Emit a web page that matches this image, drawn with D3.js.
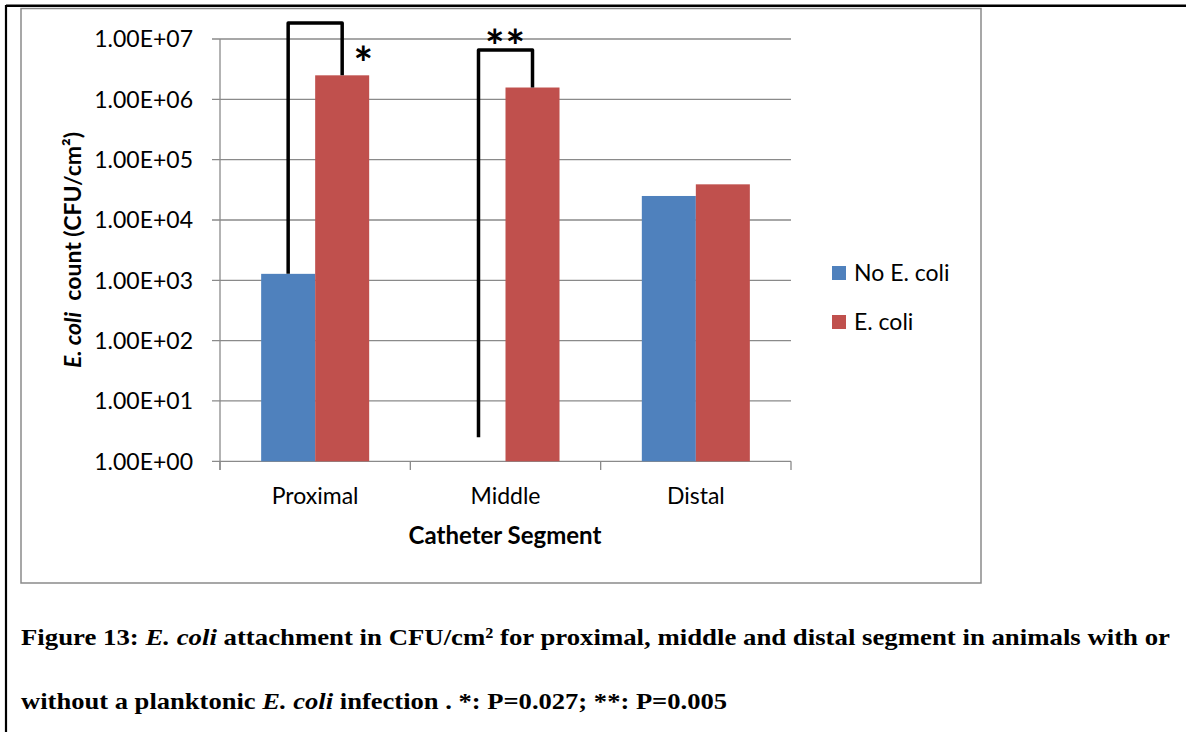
<!DOCTYPE html>
<html>
<head>
<meta charset="utf-8">
<script src="https://cdn.jsdelivr.net/npm/d3@7"></script>
<style>
  body { margin: 0; background: #fff; }
  svg { display: block; }
</style>
</head>
<body>
<svg id="chart" width="1186" height="732"></svg>
<script>
// data
const categories = ["Proximal", "Middle", "Distal"];
const seriesNames = ["No E. coli", "E. coli"];
const noEcoli = [1280, null, 25000];
const ecoli = [2500000, 1570000, 39000];
const yTicks = [1, 10, 100, 1000, 10000, 100000, 1000000, 10000000];
// significance brackets (data units)
const brackets = [
  { cat: "Proximal", left: 1280, top: 18500000, right: 2500000, label: "*" },
  { cat: "Middle", left: 2.5, top: 6600000, right: 1570000, label: "**" },
];

const colors = ["#4F81BD", "#C0504D"];
const font = "Lato, 'Open Sans', sans-serif";

const svg = d3.select("#chart");

// page frame: black line top and left
svg.append("line").attr("x1", 6).attr("x2", 1186).attr("y1", 5.8).attr("y2", 5.8)
  .attr("stroke", "#000").attr("stroke-width", 2.4);
svg.append("line").attr("x1", 6).attr("x2", 6).attr("y1", 5).attr("y2", 732)
  .attr("stroke", "#000").attr("stroke-width", 2.2);

// chart area border
svg.append("rect").attr("x", 21).attr("y", 8.5).attr("width", 960).attr("height", 574.5)
  .attr("fill", "none").attr("stroke", "#8a8a8a").attr("stroke-width", 1.5);

const x = d3.scaleBand().domain(categories).range([220, 791]).padding(0);
const xs = d3.scaleBand().domain(seriesNames).range([0, x.bandwidth()])
  .paddingInner(0).paddingOuter(0.762);
const y = d3.scaleLog().domain([1, 1e7]).range([461.3, 39]);

// gridlines
svg.append("g").selectAll("line").data(yTicks).join("line")
  .attr("x1", 212).attr("x2", 791)
  .attr("y1", d => y(d)).attr("y2", d => y(d))
  .attr("stroke", "#8a8a8a").attr("stroke-width", 1.3);

// y axis line
svg.append("line").attr("x1", 220).attr("x2", 220).attr("y1", y(1e7)).attr("y2", 470)
  .attr("stroke", "#8a8a8a").attr("stroke-width", 1.3);

// x axis ticks
const xTickPos = [220].concat(categories.map(c => x(c) + x.bandwidth()));
svg.append("g").selectAll("line").data(xTickPos).join("line")
  .attr("x1", d => d).attr("x2", d => d).attr("y1", y(1)).attr("y2", 470)
  .attr("stroke", "#8a8a8a").attr("stroke-width", 1.3);

// y tick labels
svg.append("g").selectAll("text").data(yTicks).join("text")
  .attr("x", 193).attr("y", d => y(d)).attr("dy", "0.36em")
  .attr("text-anchor", "end").attr("font-family", font).attr("font-size", 23)
  .attr("fill", "#000")
  .text(d => d3.format(".2e")(d).replace("e", "E").replace(/E([+-])(\d)$/, "E$10$2"));

// bars
const rows = categories.map((c, i) => ({ cat: c, vals: [noEcoli[i], ecoli[i]] }));
const groups = svg.append("g").selectAll("g").data(rows).join("g")
  .attr("transform", d => `translate(${x(d.cat)},0)`);
groups.selectAll("rect")
  .data(d => d.vals.map((v, j) => ({ v, s: seriesNames[j], j })).filter(e => e.v != null))
  .join("rect")
  .attr("x", d => xs(d.s)).attr("width", xs.bandwidth())
  .attr("y", d => y(d.v)).attr("height", d => y(1) - y(d.v))
  .attr("fill", d => colors[d.j]);

// category labels
svg.append("g").selectAll("text").data(categories).join("text")
  .attr("x", d => x(d) + x.bandwidth() / 2).attr("y", 504)
  .attr("text-anchor", "middle").attr("font-family", font).attr("font-size", 23)
  .text(d => d);

// x title
svg.append("text").attr("x", 505).attr("y", 544).attr("text-anchor", "middle")
  .attr("font-family", font).attr("font-size", 24).attr("font-weight", "bold")
  .text("Catheter Segment");

// y title
const yt = svg.append("text")
  .attr("transform", "translate(81,250) rotate(-90)")
  .attr("text-anchor", "middle").attr("font-family", font)
  .attr("font-size", 23).attr("font-weight", "bold");
yt.append("tspan").attr("font-style", "italic").text("E. coli");
yt.append("tspan").text("\u00a0 count (CFU/cm²)");

// brackets
const bx = (cat, s) => x(cat) + xs(s) + xs.bandwidth() / 2;
svg.append("g").selectAll("path").data(brackets).join("path")
  .attr("d", d => {
    const x1 = bx(d.cat, seriesNames[0]), x2 = bx(d.cat, seriesNames[1]);
    return `M${x1},${y(d.left)}V${y(d.top)}H${x2}V${y(d.right)}`;
  })
  .attr("fill", "none").attr("stroke", "#000").attr("stroke-width", 3.5)
  .attr("stroke-linejoin", "round");

// star labels
svg.append("text")
  .attr("x", bx("Proximal", seriesNames[1]) + 21).attr("y", 80)
  .attr("text-anchor", "middle").attr("font-family", font).attr("font-size", 46)
  .attr("font-weight", "bold").text(brackets[0].label);
svg.append("text")
  .attr("x", x("Middle") + x.bandwidth() / 2).attr("y", y(brackets[1].top) + 13)
  .attr("text-anchor", "middle").attr("font-family", font).attr("font-size", 46)
  .attr("font-weight", "bold").attr("letter-spacing", 1).text(brackets[1].label);

// legend
const leg = svg.append("g").selectAll("g").data(seriesNames).join("g")
  .attr("transform", (d, i) => `translate(832,${266 + i * 49})`);
leg.append("rect").attr("width", 14).attr("height", 14).attr("fill", (d, i) => colors[i]);
leg.append("text").attr("x", 22).attr("y", 7).attr("dy", "0.36em")
  .attr("font-family", font).attr("font-size", 23).text(d => d);

// caption
const serif = "'Liberation Serif', 'Times New Roman', serif";
const cap1 = svg.append("text").attr("x", 21).attr("y", 645)
  .attr("font-family", serif).attr("font-size", 24).attr("font-weight", "bold")
  .attr("textLength", 1149).attr("lengthAdjust", "spacingAndGlyphs");
cap1.append("tspan").text("Figure 13: ");
cap1.append("tspan").attr("font-style", "italic").text("E. coli");
cap1.append("tspan").text(" attachment in CFU/cm² for proximal, middle and distal segment in animals with or");
const cap2 = svg.append("text").attr("x", 21).attr("y", 709)
  .attr("font-family", serif).attr("font-size", 24).attr("font-weight", "bold")
  .attr("textLength", 706).attr("lengthAdjust", "spacingAndGlyphs");
cap2.append("tspan").text("without a planktonic ");
cap2.append("tspan").attr("font-style", "italic").text("E. coli");
cap2.append("tspan").text(" infection . *: P=0.027; **: P=0.005");
</script>
</body>
</html>
